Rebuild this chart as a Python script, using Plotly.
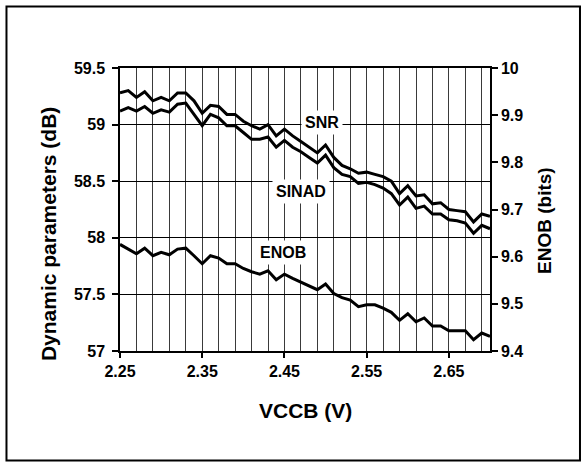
import plotly.graph_objects as go

vccb = [round(2.25 + 0.01 * i, 2) for i in range(46)]

snr = [59.28, 59.30, 59.24, 59.29, 59.21, 59.24, 59.21, 59.28, 59.28, 59.21,
       59.10, 59.17, 59.16, 59.09, 59.09, 59.03, 58.99, 58.96, 59.00, 58.90,
       58.96, 58.90, 58.85, 58.80, 58.75, 58.82, 58.71, 58.64, 58.61, 58.57,
       58.58, 58.56, 58.54, 58.50, 58.39, 58.46, 58.37, 58.38, 58.30, 58.31,
       58.25, 58.24, 58.23, 58.14, 58.21, 58.19]

sinad = [59.12, 59.15, 59.12, 59.16, 59.10, 59.13, 59.11, 59.18, 59.19, 59.09,
         58.99, 59.09, 59.06, 58.99, 58.99, 58.93, 58.87, 58.87, 58.89, 58.80,
         58.86, 58.80, 58.76, 58.71, 58.66, 58.73, 58.62, 58.56, 58.54, 58.48,
         58.49, 58.47, 58.44, 58.39, 58.29, 58.36, 58.26, 58.28, 58.21, 58.21,
         58.16, 58.15, 58.13, 58.04, 58.11, 58.08]

enob = [9.626, 9.616, 9.606, 9.618, 9.602, 9.609, 9.604, 9.616, 9.618, 9.602,
        9.585, 9.602, 9.597, 9.585, 9.585, 9.575, 9.568, 9.563, 9.570, 9.551,
        9.563, 9.554, 9.546, 9.539, 9.530, 9.542, 9.522, 9.513, 9.508, 9.494,
        9.498, 9.498, 9.491, 9.482, 9.465, 9.479, 9.462, 9.470, 9.453, 9.453,
        9.443, 9.443, 9.443, 9.424, 9.438, 9.431]

x_ticks = [2.25, 2.35, 2.45, 2.55, 2.65]
y_ticks = [57, 57.5, 58, 58.5, 59, 59.5]
y2_ticks = [9.4, 9.5, 9.6, 9.7, 9.8, 9.9, 10]

FONT = "Arial, Liberation Sans, sans-serif"
line_style = dict(color="black", width=3)

fig = go.Figure()
fig.add_trace(go.Scatter(x=vccb, y=snr, mode="lines", line=line_style, name="SNR"))
fig.add_trace(go.Scatter(x=vccb, y=sinad, mode="lines", line=line_style, name="SINAD"))
fig.add_trace(go.Scatter(x=vccb, y=enob, mode="lines", line=line_style, name="ENOB", yaxis="y2"))

tick_font = dict(family=FONT, size=16, color="black", weight="bold")
GRID_V = "#3a3a3a"

fig.update_layout(
    width=586, height=466,
    margin=dict(l=120, r=96, t=68, b=115),
    paper_bgcolor="white", plot_bgcolor="white",
    showlegend=False,
    xaxis=dict(
        range=[2.25, 2.70], tickvals=x_ticks, ticktext=[f"{v:.2f}" for v in x_ticks],
        ticks="outside", ticklen=5, tickcolor="black", tickwidth=1.5,
        showline=True, linecolor="black", linewidth=1.5, mirror=True,
        showgrid=True, gridcolor=GRID_V, gridwidth=1.2,
        minor=dict(tick0=2.25, dtick=0.02, showgrid=True, gridcolor=GRID_V, gridwidth=1.2),
        tickfont=tick_font, zeroline=False,
    ),
    yaxis=dict(
        range=[57, 59.5], tickvals=y_ticks, ticktext=["57", "57.5", "58", "58.5", "59", "59.5"],
        ticks="outside", ticklen=6, tickcolor="black", tickwidth=1.5,
        showline=True, linecolor="black", linewidth=1.5,
        showgrid=True, gridcolor="black", gridwidth=1.2,
        tickfont=tick_font, zeroline=False, ticklabelstandoff=4,
    ),
    yaxis2=dict(
        range=[9.4, 10], tickvals=y2_ticks, ticktext=["9.4", "9.5", "9.6", "9.7", "9.8", "9.9", "10"],
        overlaying="y", side="right",
        ticks="outside", ticklen=6, tickcolor="black", tickwidth=1.5,
        showline=True, linecolor="black", linewidth=1.5,
        showgrid=False, tickfont=tick_font, zeroline=False,
    ),
)

ann_font = dict(family=FONT, size=16, color="black", weight="bold")
for text, xv, yv in [("SNR", 2.496, 59.02), ("SINAD", 2.47, 58.406), ("ENOB", 2.448, 57.867)]:
    fig.add_annotation(x=xv, y=yv, xref="x", yref="y", text=text, showarrow=False,
                       font=ann_font, bgcolor="white", borderpad=3)

fig.add_annotation(x=-0.1946, y=0.413, xref="paper", yref="paper", text="Dynamic parameters (dB)",
                   textangle=-90, showarrow=False, font=dict(family=FONT, size=21, color="black", weight="bold"),
                   xanchor="center", yanchor="middle")
fig.add_annotation(x=1.1486, y=0.463, xref="paper", yref="paper", text="ENOB (bits)",
                   textangle=-90, showarrow=False, font=dict(family=FONT, size=19, color="black", weight="bold"),
                   xanchor="center", yanchor="middle")
fig.add_annotation(x=0.5, y=-0.2085, xref="paper", yref="paper", text="VCCB (V)",
                   showarrow=False, font=dict(family=FONT, size=21, color="black", weight="bold"),
                   xanchor="center", yanchor="middle")

fig.add_shape(type="rect", xref="paper", yref="paper", x0=-0.3068, x1=1.2432, y0=-0.3869, y1=1.2173,
              line=dict(color="black", width=2), layer="above")

fig.write_html("out.html", config={"displayModeBar": False},
               post_script="document.body.style.margin='0';")
